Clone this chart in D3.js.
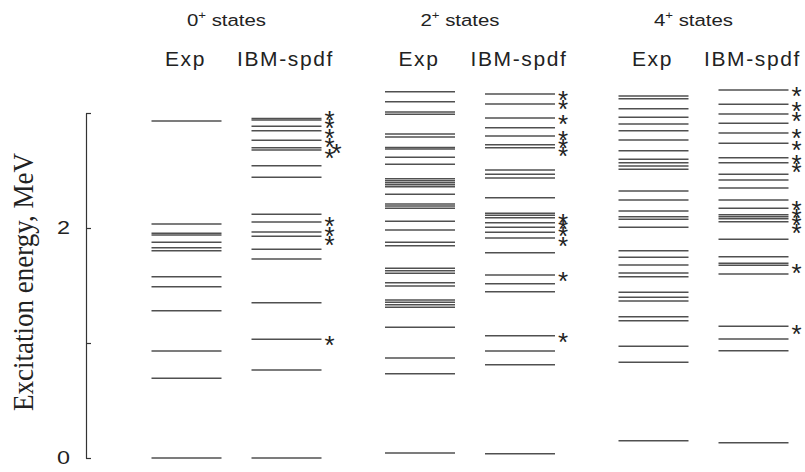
<!DOCTYPE html>
<html>
<head>
<meta charset="utf-8">
<script src="https://cdn.jsdelivr.net/npm/d3@7"></script>
<style>
  html, body { margin: 0; padding: 0; background: #fff; }
  svg { display: block; }
  .sans { font-family: "Liberation Sans", Arial, sans-serif; fill: #222; }
  .serif { font-family: "Liberation Serif", "Times New Roman", serif; fill: #222; }
</style>
</head>
<body>
<svg id="chart" width="805" height="472"></svg>
<script>
// Excitation energies (MeV) of 0+, 2+ and 4+ states: experiment vs IBM-spdf
const groups = ["0", "2", "4"];
const columns = ["Exp", "IBM-spdf"];

const exp0 = [2.930, 2.035, 1.954, 1.939, 1.876, 1.829, 1.803, 1.577, 1.490, 1.281, 0.930, 0.693, 0];
const ibm0 = [2.952, 2.939, 2.884, 2.846, 2.763, 2.698, 2.678, 2.542, 2.441, 2.119, 2.052, 1.965, 1.928,
              1.815, 1.730, 1.350, 1.032, 0.765, 0];
const stars0 = [2.997, 2.924, 2.837, 2.759, 2.663, 2.076, 1.983, 1.904, 1.035];
const stars0Side = [2.707];

const exp2 = [3.185, 3.098, 3.009, 2.989, 2.817, 2.791, 2.700, 2.687, 2.615, 2.554, 2.429, 2.411, 2.394,
              2.377, 2.359, 2.293, 2.209, 2.191, 2.171, 2.058, 1.983, 1.876, 1.846, 1.650, 1.629, 1.606,
              1.524, 1.496, 1.374, 1.354, 1.333, 1.310, 1.137, 0.870, 0.733, 0.043];
const ibm2 = [3.165, 3.078, 2.957, 2.872, 2.800, 2.724, 2.698, 2.504, 2.467, 2.435, 2.263, 2.128, 2.110,
              2.090, 2.046, 2.006, 1.963, 1.913, 1.785, 1.591, 1.516, 1.446, 1.063, 0.930, 0.811, 0.037];
const stars2 = [3.171, 3.089, 2.963, 2.823, 2.750, 2.678, 2.098, 2.046, 1.983, 1.902, 1.591, 1.063];

const exp4 = [3.148, 3.124, 3.037, 2.963, 2.904, 2.846, 2.765, 2.672, 2.597, 2.568, 2.539, 2.510, 2.322,
              2.243, 2.148, 2.098, 2.076, 2.006, 1.803, 1.745, 1.678, 1.609, 1.577, 1.441, 1.397, 1.365,
              1.229, 1.194, 0.971, 0.832, 0.150];
const ibm4 = [3.200, 3.076, 2.991, 2.910, 2.826, 2.737, 2.611, 2.568, 2.467, 2.417, 2.348, 2.243, 2.171,
              2.116, 2.098, 2.081, 2.055, 1.902, 1.750, 1.693, 1.676, 1.600, 1.145, 1.035, 0.933, 0.133];
const stars4 = [3.200, 3.076, 2.983, 2.837, 2.737, 2.611, 2.539, 2.215, 2.142, 2.084, 2.011, 1.663, 1.137];

const yTicks = [0, 1, 2, 3];
const yTickLabels = ["0", "", "2", ""];
const yTitle = "Excitation energy, MeV";

const levels = {
  "0": { "Exp": exp0, "IBM-spdf": ibm0 },
  "2": { "Exp": exp2, "IBM-spdf": ibm2 },
  "4": { "Exp": exp4, "IBM-spdf": ibm4 }
};
const stars = { "0": stars0, "2": stars2, "4": stars4 };
const sideStars = { "0": stars0Side, "2": [], "4": [] };

const svg = d3.select("#chart");

const y = d3.scaleLinear().domain([0, 3]).range([458, 113]);
const gx = d3.scalePoint().domain(groups).range([236.5, 703.5]);
const cx = d3.scalePoint().domain(columns).range([-50, 50]);
const halfW = 35;
const lineColor = "#505050";
const starSize = 26;

// vertical axis, ticks pointing inward
const axis = d3.axisLeft(y)
  .tickValues(yTicks)
  .tickSizeInner(-5)
  .tickSizeOuter(0)
  .tickPadding(16)
  .tickFormat((d, i) => yTickLabels[i]);

const ax = svg.append("g")
  .attr("transform", "translate(86,0)")
  .call(axis);
ax.select(".domain").attr("stroke", "#333").attr("stroke-width", 1.2);
ax.selectAll(".tick line").attr("stroke", "#333").attr("stroke-width", 1.2);
ax.selectAll(".tick text")
  .attr("class", "sans")
  .attr("x", -16 / 1.3)
  .attr("transform", "scale(1.3,1)")
  .style("font-size", "18px")
  .attr("fill", "#222");

svg.append("text")
  .attr("class", "serif")
  .attr("transform", "translate(33,282) scale(1.12,1) rotate(-90)")
  .attr("text-anchor", "middle")
  .style("font-size", "27px")
  .text(yTitle);

// group headers (slightly horizontally stretched face)
const head = svg.append("g").selectAll("text")
  .data(groups).join("text")
  .attr("class", "sans")
  .attr("transform", d => `translate(${gx(d) - 10},26) scale(1.2,1)`)
  .attr("text-anchor", "middle")
  .style("font-size", "17px");
head.append("tspan").text(d => d);
head.append("tspan").attr("dy", -7).style("font-size", "11px").text("+");
head.append("tspan").attr("dy", 7).text(" states");

// column headers
groups.forEach(g => {
  svg.append("g").selectAll("text")
    .data(columns).join("text")
    .attr("class", "sans")
    .attr("x", c => gx(g) + cx(c) - 1)
    .attr("y", 66)
    .attr("text-anchor", "middle")
    .style("font-size", "21px")
    .style("letter-spacing", "1.6px")
    .text(c => c);
});

// energy levels and starred states
groups.forEach(g => {
  columns.forEach(c => {
    const x0 = gx(g) + cx(c);
    svg.append("g").selectAll("line")
      .data(levels[g][c]).join("line")
      .attr("x1", x0 - halfW)
      .attr("x2", x0 + halfW)
      .attr("y1", d => y(d))
      .attr("y2", d => y(d))
      .attr("stroke", lineColor)
      .attr("stroke-width", 1.5);
  });
  const sx = gx(g) + cx("IBM-spdf") + halfW + 8;
  svg.append("g").selectAll("text")
    .data(stars[g]).join("text")
    .attr("class", "sans")
    .attr("x", sx)
    .attr("y", d => y(d) + starSize * 0.59)
    .attr("text-anchor", "middle")
    .style("font-size", starSize + "px")
    .attr("fill", "#333")
    .text("*");
  svg.append("g").selectAll("text")
    .data(sideStars[g]).join("text")
    .attr("class", "sans")
    .attr("x", sx + 7)
    .attr("y", d => y(d) + starSize * 0.59)
    .attr("text-anchor", "middle")
    .style("font-size", starSize + "px")
    .attr("fill", "#333")
    .text("*");
});
</script>
</body>
</html>
